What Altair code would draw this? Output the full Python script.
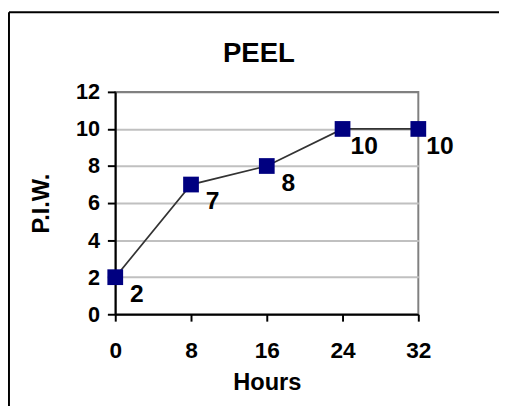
import altair as alt
import pandas as pd

hours = [0, 8, 16, 24, 32]
piw = [2, 7, 8, 10, 10]
x_ticks = [0, 8, 16, 24, 32]
y_ticks = [0, 2, 4, 6, 8, 10, 12]
chart_title = "PEEL"

df = pd.DataFrame({"Hours": hours, "PIW": piw})
title_df = pd.DataFrame({"t": [chart_title]})

FONT = "Liberation Sans"

x_enc = alt.X(
    "Hours:Q",
    scale=alt.Scale(domain=[0, 32], nice=False, zero=False),
    axis=alt.Axis(
        values=x_ticks, title="Hours", grid=False,
        domainColor="black", domainWidth=2,
        tickColor="black", tickWidth=2, tickSize=7,
        labelFont=FONT, labelFontSize=23, labelFontWeight="bold", labelColor="black",
        labelPadding=19, labelFlush=False, labelOverlap=False,
        titleFont=FONT, titleFontSize=24, titleFontWeight="bold", titleColor="black",
        titlePadding=8,
    ),
)
y_enc = alt.Y(
    "PIW:Q",
    scale=alt.Scale(domain=[0, 12], nice=False),
    axis=alt.Axis(
        values=y_ticks, title="P.I.W.", grid=True,
        gridColor={"condition": {"test": "datum.value === 12", "value": "#808080"}, "value": "#c0c0c0"},
        gridWidth=2,
        domainColor="black", domainWidth=2,
        tickColor="black", tickWidth=2, tickSize=8,
        labelFont=FONT, labelFontSize=22, labelFontWeight="bold", labelColor="black",
        labelPadding=8, labelFlush=False, labelOverlap=False,
        titleFont=FONT, titleFontSize=24, titleFontWeight="bold", titleColor="black",
        titlePadding=22,
    ),
)

base = alt.Chart(df)

line = base.mark_line(color="#333333", strokeWidth=1.8).encode(x=x_enc, y=y_enc)
points = base.mark_square(size=256, color="#000080", opacity=1, filled=True).encode(x=x_enc, y=y_enc)
labels = base.mark_text(
    font=FONT, fontSize=25, fontWeight="bold", color="black",
    align="center", baseline="middle", dx=22, dy=17,
).encode(x=x_enc, y=y_enc, text="PIW:Q")

title_mark = alt.Chart(title_df).mark_text(
    font=FONT, fontSize=28, fontWeight="bold", color="black",
    align="center", baseline="alphabetic",
).encode(x=alt.value(146), y=alt.value(-30), text="t:N")

frame_top = alt.Chart(title_df).mark_rule(color="black", strokeWidth=2).encode(
    x=alt.value(-108), x2=alt.value(420), y=alt.value(-81)
)
frame_left = alt.Chart(title_df).mark_rule(color="black", strokeWidth=2).encode(
    x=alt.value(-108), y=alt.value(-81), y2=alt.value(400)
)

chart = alt.layer(line, points, labels, title_mark, frame_top, frame_left).properties(
    width=308,
    height=226,
    autosize=alt.AutoSizeParams(type="none"),
    padding={"left": 109, "top": 82, "right": 82, "bottom": 90},
    background="white",
).configure_view(stroke="#808080", strokeWidth=2)

chart.save("out.html", embed_options={"renderer": "svg", "actions": False})
